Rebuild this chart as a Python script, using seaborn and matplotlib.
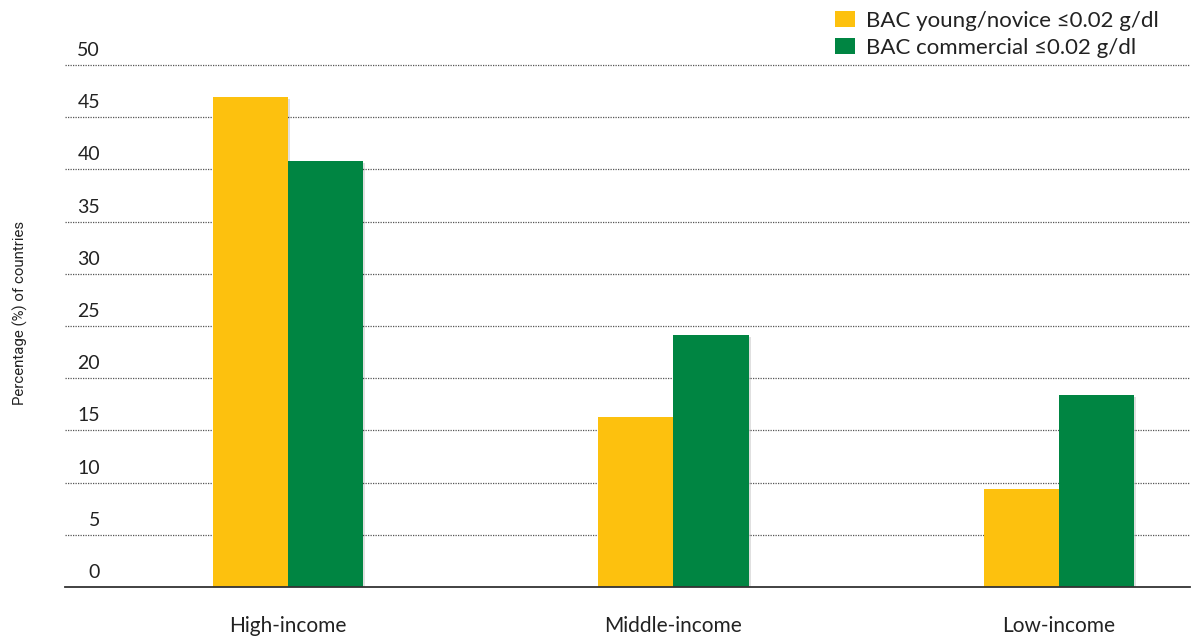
import matplotlib
matplotlib.use("Agg")
import matplotlib.pyplot as plt
import matplotlib.patheffects as pe
import matplotlib.transforms as mtransforms
from matplotlib.patches import Patch
import seaborn as sns
import pandas as pd

categories = ["High-income", "Middle-income", "Low-income"]
series_names = ["BAC young/novice \u22640.02 g/dl", "BAC commercial \u22640.02 g/dl"]
young_novice = [46.9, 16.3, 9.4]
commercial = [40.8, 24.1, 18.4]
yticks = [0, 5, 10, 15, 20, 25, 30, 35, 40, 45, 50]
colors = ["#FDC10E", "#008542"]

df = pd.DataFrame({
    "category": categories * 2,
    "series": [series_names[0]] * 3 + [series_names[1]] * 3,
    "value": young_novice + commercial,
})

sns.set_theme(style="white")
plt.rcParams["font.family"] = ["Lato", "DejaVu Sans"]

fig = plt.figure(figsize=(11.94, 6.39), dpi=100)
ax = fig.add_axes([65 / 1194, 52 / 639, (1190 - 65) / 1194, (587 - 44) / 639])

sns.barplot(data=df, x="category", y="value", hue="series", order=categories,
            hue_order=series_names, palette=colors, width=0.39, saturation=1,
            ax=ax, legend=False, linewidth=0)

for p in ax.patches:
    p.set_path_effects([pe.SimplePatchShadow(offset=(1.5, -1.5), shadow_rgbFace="#000000", alpha=0.12), pe.Normal()])

ax.set_xlim(-0.578, 2.34)
ax.set_ylim(0, 52)
ax.set_yticks(yticks)
ax.set_yticklabels([])
ax.tick_params(axis="y", length=0)
ax.tick_params(axis="x", length=0, pad=21, labelsize=15, labelcolor="#222222")
ax.set_xlabel("")
ax.set_ylabel("")
for s in ["top", "right", "left"]:
    ax.spines[s].set_visible(False)
ax.spines["bottom"].set_color("#333333")
ax.spines["bottom"].set_linewidth(1.3)

for t in yticks[1:]:
    ax.axhline(t, color="#555555", linestyle=(0, (1, 1)), linewidth=0.9, zorder=0)

trans = mtransforms.blended_transform_factory(ax.transAxes, ax.transData)
offset = mtransforms.ScaledTranslation(0, 6 / 100, fig.dpi_scale_trans)
for t in yticks:
    ax.text(35 / 1125, t, str(t), transform=trans + offset, ha="right", va="bottom",
            fontsize=14, color="#222222")

fig.text(20 / 1194, 1 - 313 / 639, "Percentage (%) of countries", rotation=90,
         ha="center", va="center", fontsize=10.8, color="#222222",
         family=["Roboto", "DejaVu Sans"])

handles = [Patch(facecolor=c, edgecolor="none") for c in colors]
fig.legend(handles, series_names, loc="upper left", bbox_to_anchor=(835 / 1194, 1 - 11 / 639),
           frameon=False, fontsize=16, handlelength=0.9, handleheight=0.75,
           handletextpad=0.5, labelspacing=0.3, borderpad=0, borderaxespad=0,
           labelcolor="#222222")

fig.savefig("out.png", dpi=100)
